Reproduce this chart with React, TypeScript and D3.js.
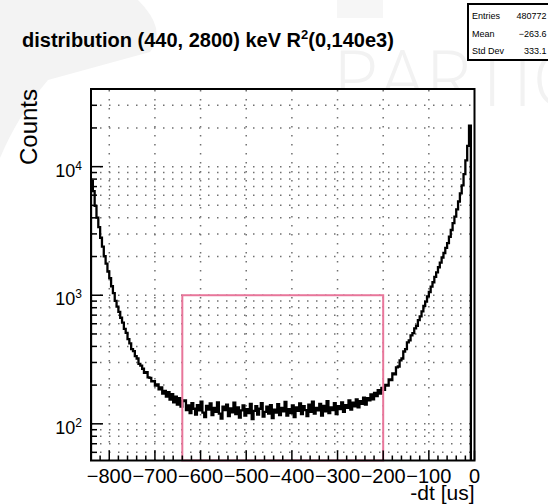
import React from 'react';
import * as d3 from 'd3';

// ---- data ----
const binStart = -840;
const binWidth = 4;
const counts: number[] = [
  7700, 6450, 4950, 4020, 3380, 2800, 2390, 2010, 1760, 1530,
  1360, 1175, 1040, 905, 815, 742, 668, 612, 548, 510,
  455, 422, 381, 368, 336, 322, 293, 284, 268, 249,
  252, 230, 228, 214, 215, 198, 203, 185, 192, 172,
  180, 163, 176, 154, 170, 147, 163, 141, 158, 136,
  150, 152, 128, 139, 121, 145, 131, 118, 140, 127,
  149, 122, 113, 138, 129, 144, 117, 133, 124, 147,
  120, 110, 136, 128, 141, 115, 132, 123, 146, 119,
  134, 112, 127, 139, 116, 130, 121, 143, 109, 126,
  137, 118, 131, 145, 114, 124, 136, 120, 140, 111,
  129, 122, 142, 117, 133, 125, 148, 116, 130, 121,
  139, 113, 134, 126, 144, 119, 137, 128, 115, 141,
  124, 149, 120, 133, 127, 143, 116, 138, 125, 150,
  121, 134, 128, 145, 119, 137, 130, 147, 124, 140,
  133, 152, 129, 146, 137, 155, 134, 150, 143, 160,
  141, 158, 152, 169, 155, 174, 164, 183, 172, 190,
  184, 201, 198, 222, 219, 247, 243, 275, 279, 312,
  322, 365, 381, 430, 446, 487, 508, 552, 579, 640,
  684, 749, 826, 893, 981, 1060, 1168, 1262, 1390, 1505,
  1650, 1790, 1965, 2130, 2335, 2545, 2850, 3215, 3640, 4080,
  4660, 5360, 6200, 7150, 8750, 11200, 14500, 20800,
];
const xTickValues = [-800, -700, -600, -500, -400, -300, -200, -100, 0];
const xTickLabels = ['\u2212800', '\u2212700', '\u2212600', '\u2212500', '\u2212400', '\u2212300', '\u2212200', '\u2212100', '0'];
const yDecades = [100, 1000, 10000];
const yDecadeExps = ['2', '3', '4'];
const statNames = ['Entries', 'Mean', 'Std Dev'];
const statValues = ['480772', '\u2212263.6', '333.1'];
const regionX = [-640, -200];
const regionTop = 1000;
const titleMain = 'distribution (440, 2800) keV R';
const titleSup = '2';
const titleTail = '(0,140e3)';
const xTitle = '-dt [us]';
const yTitle = 'Counts';
const watermark = 'PARTIC';

// ---- layout ----
const W = 548, H = 504;
const L = 91, R = 474.5, T = 89, B = 460.5;
const FONT = '"Liberation Sans", Arial, Helvetica, sans-serif';

const x = d3.scaleLinear().domain([-840, 0]).range([L, R]);
const y = d3.scaleLog().domain([Math.pow(10, 1.7147), Math.pow(10, 4.6039)]).range([B, T]);

function histPath(): string {
  let p = '';
  counts.forEach((c, i) => {
    const x0 = x(binStart + i * binWidth);
    const x1 = x(binStart + (i + 1) * binWidth);
    const yy = y(c);
    if (i === 0) p += `M${x0},${B}L${x0},${yy}`;
    else p += `L${x0},${yy}`;
    p += `L${x1},${yy}`;
    if (i === counts.length - 1) p += `L${x1},${B}`;
  });
  return p;
}

export default function App() {
  const [lo, hi] = y.domain();
  const minorVals: number[] = [];
  [10, 100, 1000, 10000].forEach((d) => {
    for (let k = 2; k <= 9; k++) {
      const v = k * d;
      if (v > lo && v < hi * 0.97) minorVals.push(v);
    }
  });
  const hGrid = [...yDecades, ...minorVals];
  const xMinor: number[] = [];
  for (let v = -840; v <= 0; v += 20) if (v % 100 !== 0) xMinor.push(v);
  const vGrid = xTickValues.filter((v) => v > -840 && v < 0);

  return (
    <svg width={W} height={H} style={{ position: 'absolute', left: 0, top: 0, background: '#fff' }} fontFamily={FONT}>
      {/* faint watermark */}
      <path d="M0,0 L138,0 Q168,30 150,52 L48,80 Q18,115 0,158 Z" fill="#f3f3f3" />
      <rect x={337} y={0} width={46} height={18} fill="#f6f6f6" />
      <text x={333} y={106} fontSize={78} fontFamily='"Open Sans", sans-serif' fontWeight={300} fill="#f2f2f2">{watermark}</text>

      {/* plot area */}
      <rect x={L} y={T} width={R - L} height={B - T} fill="#fff" />
      <g stroke="#707070" strokeWidth={1.5} strokeDasharray="1.5 7.5" fill="none">
        {vGrid.map((v) => (
          <line key={'vg' + v} x1={x(v)} x2={x(v)} y1={B} y2={T} />
        ))}
        {hGrid.map((v) => (
          <line key={'hg' + v} x1={L} x2={R} y1={y(v)} y2={y(v)} />
        ))}
      </g>

      <defs>
        <clipPath id="plotclip">
          <rect x={L} y={T} width={R - L} height={B - T} />
        </clipPath>
      </defs>
      <path d={histPath()} fill="none" stroke="#000" strokeWidth={2.3} strokeLinejoin="miter" clipPath="url(#plotclip)" />

      {/* highlighted region */}
      <rect x={x(regionX[0])} y={y(regionTop)} width={x(regionX[1]) - x(regionX[0])} height={B - y(regionTop)}
        fill="none" stroke="#e8769a" strokeWidth={2} />

      {/* axis ticks */}
      <g stroke="#000" strokeWidth={1.5}>
        {xTickValues.map((v) => (
          <line key={'xt' + v} x1={x(v)} x2={x(v)} y1={B} y2={B - 10} />
        ))}
        {xMinor.map((v) => (
          <line key={'xm' + v} x1={x(v)} x2={x(v)} y1={B} y2={B - 5} />
        ))}
        {yDecades.map((v) => (
          <line key={'yt' + v} x1={L} x2={L + 12} y1={y(v)} y2={y(v)} />
        ))}
        {minorVals.map((v) => (
          <line key={'ym' + v} x1={L} x2={L + 6} y1={y(v)} y2={y(v)} />
        ))}
      </g>

      {/* frame */}
      <rect x={L} y={T} width={R - L} height={B - T} fill="none" stroke="#000" strokeWidth={2} />

      {/* tick labels */}
      {xTickValues.map((v, i) => (
        <text key={'xl' + v} x={x(v)} y={483} fontSize={20} textAnchor="middle" fill="#000">{xTickLabels[i]}</text>
      ))}
      {yDecades.map((v, i) => (
        <text key={'yl' + v} x={82} y={y(v) + 10} fontSize={18} textAnchor="end" fill="#000">
          <tspan>10</tspan>
          <tspan fontSize={12} dy={-7}>{yDecadeExps[i]}</tspan>
        </text>
      ))}

      {/* axis titles */}
      <text x={R} y={500} fontSize={21} textAnchor="end" fill="#000">{xTitle}</text>
      <text transform={`translate(37,${T})rotate(-90)`} fontSize={24} textAnchor="end" fill="#000">{yTitle}</text>

      {/* title */}
      <text x={22} y={47} fontSize={20} fontWeight="bold" fill="#000">
        <tspan>{titleMain}</tspan>
        <tspan fontSize={13} dy={-8}>{titleSup}</tspan>
        <tspan fontSize={20} dy={8}>{titleTail}</tspan>
      </text>

      {/* stats box */}
      <rect x={468} y={4} width={90} height={56} fill="#fff" stroke="#000" strokeWidth={2} />
      {statNames.map((n, i) => (
        <g key={n}>
          <text x={472} y={19 + i * 17.5} fontSize={9} fill="#000">{n}</text>
          <text x={546.5} y={19 + i * 17.5} fontSize={9} textAnchor="end" fill="#000">{statValues[i]}</text>
        </g>
      ))}
    </svg>
  );
}
